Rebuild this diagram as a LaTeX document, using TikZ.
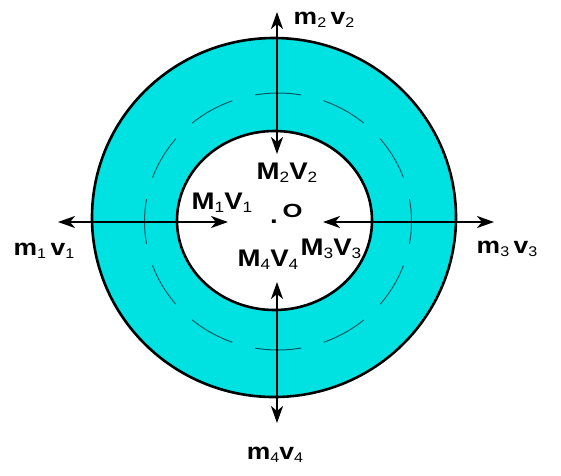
\documentclass[tikz,border=0pt]{standalone}
\usepackage{fontspec}
\setmainfont{Liberation Sans}
\usetikzlibrary{arrows.meta}
\definecolor{ringcyan}{RGB}{0,226,226}
\definecolor{dashteal}{RGB}{0,90,100}
\newcommand\capl[2]{\textbf{#1}\raisebox{-3pt}{\fontsize{15}{15}\selectfont #2}}
\newcommand\lowl[2]{\textbf{#1}\raisebox{-3pt}{\fontsize{14}{14}\selectfont #2}}
\begin{document}
\begin{tikzpicture}[x=1pt,y=-1pt,
  tip/.tip={Stealth[length=17pt,width=12pt,inset=5pt]},
  arr/.style={line width=2.4pt, tip-tip},
  biglab/.style={font=\fontsize{24}{26}\selectfont, inner sep=0pt, xscale=1.15},
  smalllab/.style={font=\fontsize{23}{24}\selectfont, inner sep=0pt, xscale=1.15},
  dasharc/.style={draw=dashteal, line width=1pt}]
\fill[white] (0,0) rectangle (561,475);
\useasboundingbox (0,0) rectangle (561,475);
% ring
\filldraw[fill=ringcyan, draw=black, line width=2.6pt] (274,217.5) ellipse [x radius=182, y radius=179.5];
\filldraw[fill=white, draw=black, line width=2.6pt] (274.5,220.5) ellipse [x radius=97.5, y radius=89.5];
% dashed middle circle
\coordinate (mc) at (278,221.5);
\foreach \a in {0,30,...,330}{
  \draw[dasharc] (mc) ++(\a-10:133.5 and 128.5) arc[start angle=\a-10, end angle=\a+10, x radius=133.5, y radius=128.5];
}
% arrow end points
\coordinate (lo) at (58,222);
\coordinate (li) at (228,222);
\coordinate (ri) at (323,222);
\coordinate (ro) at (494,222);
\coordinate (to) at (277,12);
\coordinate (ti) at (277,154);
\coordinate (bi) at (277,282);
\coordinate (bo) at (277,423);
\draw[arr] (lo) -- (li);
\draw[arr] (ro) -- (ri);
\draw[arr] (to) -- (ti);
\draw[arr] (bo) -- (bi);
% labels
\node[smalllab] (m2) at (324,20) {\lowl{m}{2}\,\lowl{v}{2}};
\node[smalllab] (m1) at (44,251) {\lowl{m}{1}\,\lowl{v}{1}};
\node[smalllab] (m3) at (507,249) {\lowl{m}{3}\,\lowl{v}{3}};
\node[smalllab] (m4) at (275,455) {\lowl{m}{4}\lowl{v}{4}};
\node[biglab] (M2) at (287,173) {\capl{M}{2}\capl{V}{2}};
\node[biglab] (M1) at (222,203) {\capl{M}{1}\capl{V}{1}};
\node[biglab] (M3) at (331,249) {\capl{M}{3}\capl{V}{3}};
\node[biglab] (M4) at (268,260) {\capl{M}{4}\capl{V}{4}};
\node[biglab] (dot) at (274,221.5) {\textbf{.}};
\node[inner sep=0pt, font=\fontsize{19}{19}\selectfont\bfseries, xscale=1.35] (O) at (292.5,210.5) {O};
\end{tikzpicture}
\end{document}
